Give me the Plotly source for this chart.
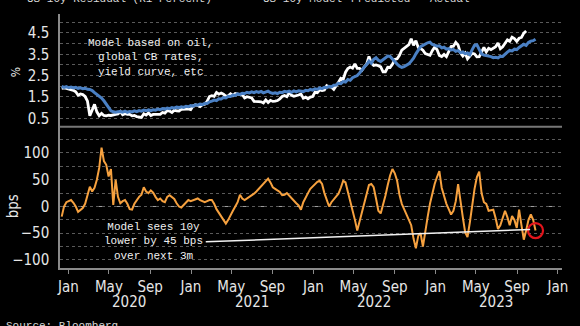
import pandas as pd
import plotly.graph_objects as go

# ---------------- data (weekly) ----------------
START = "2019-12-12"

actual_10y = [
    1.90, 1.92, 1.90, 1.88, 1.86, 1.81, 1.74, 1.58, 1.64, 1.61, 1.52, 1.30,
    0.62, 0.85, 1.15, 0.80, 0.62, 0.73, 0.63, 0.61, 0.64, 0.63, 0.64, 0.68, 0.70,
    0.82, 0.66, 0.71, 0.68, 0.68, 0.61, 0.63, 0.58, 0.55, 0.54, 0.71, 0.65, 0.75,
    0.63, 0.68, 0.69, 0.67, 0.68, 0.77, 0.74, 0.86, 0.84, 0.77, 0.88, 0.85, 0.84,
    0.92, 0.91, 0.93, 0.94, 0.91, 1.08, 1.13, 1.10, 1.05, 1.14, 1.16, 1.29, 1.52,
    1.56, 1.53, 1.71, 1.63, 1.68, 1.63, 1.53, 1.55, 1.65, 1.56, 1.66, 1.63, 1.61,
    1.62, 1.45, 1.51, 1.49, 1.45, 1.29, 1.30, 1.28, 1.27, 1.22, 1.36, 1.24, 1.34,
    1.29, 1.30, 1.33, 1.41, 1.52, 1.57, 1.51, 1.70, 1.58, 1.53, 1.55, 1.59, 1.64,
    1.44, 1.49, 1.41, 1.49, 1.52, 1.73, 1.70, 1.83, 1.80, 1.82, 2.03, 1.97, 1.96,
    1.86, 2.00, 2.19, 2.37, 2.32, 2.66, 2.83, 2.90, 2.85, 3.05, 2.84, 2.84, 2.75,
    2.91, 3.04, 3.40, 3.09, 2.98, 3.00, 2.96, 2.91, 2.68, 2.68, 2.89, 2.88, 3.03,
    3.26, 3.29, 3.45, 3.70, 3.78, 3.83, 3.95, 4.23, 3.92, 4.14, 3.82, 3.77, 3.69,
    3.53, 3.48, 3.45, 3.67, 3.83, 3.72, 3.44, 3.39, 3.49, 3.39, 3.66, 3.86, 3.88,
    4.06, 3.93, 3.57, 3.42, 3.55, 3.29, 3.45, 3.55, 3.52, 3.38, 3.39, 3.64, 3.82,
    3.61, 3.78, 3.72, 3.80, 3.85, 4.03, 3.76, 3.85, 4.00, 4.18, 4.11, 4.30, 4.24,
    4.11, 4.25, 4.29, 4.49, 4.59,
]

model_10y = [
    1.99, 1.95, 1.98, 1.93, 1.96, 1.92, 1.95, 1.90, 1.93, 1.89, 1.91, 1.86, 1.85,
    1.80, 1.70, 1.62, 1.55, 1.45, 1.32, 1.15, 1.00, 0.85, 0.80, 0.78, 0.80, 0.82,
    0.79, 0.83, 0.78, 0.82, 0.80, 0.85, 0.81, 0.86, 0.83, 0.88, 0.85, 0.89, 0.86,
    0.90, 0.88, 0.93, 0.90, 0.95, 0.93, 0.98, 0.95, 1.00, 0.97, 1.02, 1.00, 1.04,
    1.01, 1.06, 1.04, 1.09, 1.07, 1.13, 1.11, 1.16, 1.14, 1.20, 1.19, 1.27, 1.30,
    1.35, 1.33, 1.41, 1.40, 1.47, 1.45, 1.53, 1.52, 1.59, 1.57, 1.64, 1.62, 1.67,
    1.66, 1.72, 1.69, 1.74, 1.70, 1.75, 1.71, 1.76, 1.69, 1.73, 1.77, 1.70, 1.66,
    1.69, 1.66, 1.72, 1.70, 1.76, 1.73, 1.77, 1.72, 1.78, 1.74, 1.79, 1.76, 1.75,
    1.81, 1.79, 1.85, 1.82, 1.88, 1.85, 1.92, 1.89, 1.95, 1.93, 2.00, 1.97, 2.05,
    2.06, 2.14, 2.12, 2.22, 2.20, 2.32, 2.28, 2.40, 2.44, 2.50, 2.62, 2.78, 2.90,
    3.02, 3.18, 3.08, 3.27, 3.34, 3.22, 3.16, 3.25, 3.36, 3.42, 3.40, 3.28, 3.12,
    3.04, 2.94, 2.89, 2.92, 2.97, 3.05, 3.18, 3.32, 3.52, 3.72, 3.86, 3.92, 3.99,
    4.04, 4.07, 3.96, 3.93, 3.88, 3.90, 3.80, 3.83, 3.74, 3.77, 3.70, 3.72, 3.64,
    3.67, 3.58, 3.61, 3.53, 3.56, 3.48, 3.72, 3.92, 3.95, 3.74, 3.52, 3.46, 3.44,
    3.40, 3.39, 3.34, 3.36, 3.33, 3.41, 3.40, 3.52, 3.60, 3.68, 3.66, 3.74, 3.72,
    3.82, 3.88, 3.97, 3.92, 4.06, 4.12, 4.14, 4.21,
]

residual_bps = [
    -19, 0, 8, 10, 12, 7, 0, -10, -7, -3, 5, 22, 37,
    28, 35, 50, 72, 110, 85, 78, 56, 70, 3, 50, 18, 6,
    10, 12, 5, -5, -6, 5, 12, 18, 22, 36, 28, 25, 30,
    26, 18, 12, 15, 10, 8, 18, 21, 18, 14, 6, 0, -2,
    3, 9, 12, 10, 12, 14, 15, 12, 10, 8, 10, 12, 12,
    5, -5, -12, -20, -25, -32, -25, -15, -8, 0, 8, 22, 15,
    12, 15, 18, 20, 24, 28, 33, 38, 43, 47, 52, 45, 36,
    33, 30, 27, 21, 22, 25, 20, 14, 10, 6, 2, -6, 8,
    18, 25, 33, 38, 43, 46, 48, 42, 25, 12, 0, 8, 13,
    18, 24, 35, 48, 45, 28, 12, -5, -25, -45, -28, -10, 8,
    25, 40, 42, 36, 15, -8, -13, 2, 20, 40, 58, 70, 62,
    48, 22, 5, -5, -15, -25, -35, -60, -78, -55, -50, -75, -45,
    -20, 5, 25, 42, 55, 66, 35, 18, 5, -5, -15, -8, 10,
    42, 15, -20, -48, -57, -30, 5, 33, 55, 65, 25, 8, 5,
    -8, -7, -6, -22, -42, -35, -20, -8, -20, -35, -18, -25, -40,
    -6, -35, -62, -45, -25, -15, -25, -45,
]

month_ticks = ["2020-01-01", "2020-05-01", "2020-09-01", "2021-01-01", "2021-05-01",
               "2021-09-01", "2022-01-01", "2022-05-01", "2022-09-01", "2023-01-01",
               "2023-05-01", "2023-09-01", "2024-01-01"]
month_labels = ["Jan", "May", "Sep", "Jan", "May", "Sep", "Jan", "May", "Sep",
                "Jan", "May", "Sep", "Jan"]
year_labels = ["2020", "2021", "2022", "2023"]
year_centres = ["2020-07-01", "2021-07-01", "2022-07-01", "2023-07-01"]

dates = pd.date_range(START, periods=len(model_10y), freq="7D")
dates_actual = dates[:len(actual_10y)]

# ---------------- styling ----------------
BG = "#000000"
GRID = "#5a5a5a"
AXIS = "#8a8a8a"
TXT = "#e6e6e6"
SANS = "Liberation Sans Narrow, DejaVu Sans Condensed, Arial Narrow, sans-serif"
MONO = "Liberation Mono, DejaVu Sans Mono, monospace"

fig = go.Figure()

fig.add_trace(go.Scatter(x=dates_actual, y=actual_10y, mode="lines", name="Actual",
                         line=dict(color="#ffffff", width=2.8), yaxis="y"))
fig.add_trace(go.Scatter(x=dates, y=model_10y, mode="lines", name="Predicted",
                         line=dict(color="#4a80c4", width=3.0), yaxis="y"))
fig.add_trace(go.Scatter(x=dates, y=residual_bps, mode="lines", name="Residual",
                         line=dict(color="#f6a13f", width=2.0), yaxis="y2"))
fig.add_trace(go.Scatter(x=[dates[-1]], y=[residual_bps[-1]], mode="markers",
                         marker=dict(symbol="circle-open", size=15, color="#e3151c",
                                     line=dict(width=2.2, color="#e3151c")),
                         yaxis="y2", hoverinfo="skip"))

SPLIT = 0.556

fig.update_layout(
    width=580, height=326,
    margin=dict(l=60, r=13, t=14, b=58),
    paper_bgcolor=BG, plot_bgcolor=BG,
    showlegend=False,
    font=dict(family=SANS, color=TXT, size=15),
    xaxis=dict(
        type="date", anchor="y2",
        range=["2019-12-07", "2024-01-13"],
        tickvals=month_ticks, ticktext=month_labels,
        ticks="outside", ticklen=4, tickcolor=AXIS,
        showline=True, linecolor=AXIS, linewidth=1.5,
        showgrid=False, zeroline=False,
        tickfont=dict(family=SANS, size=15, color=TXT),
    ),
    yaxis=dict(
        domain=[SPLIT, 1], range=[0.1, 5.39],
        tick0=0.5, dtick=1, ticks="", ticklabelstandoff=6,
        showgrid=True, gridcolor=GRID, griddash="dot", gridwidth=1,
        minor=dict(tick0=0.5, dtick=0.5, showgrid=True, gridcolor=GRID,
                   griddash="dot", gridwidth=1),
        showline=True, linecolor=AXIS, linewidth=1.5, zeroline=False,
        tickfont=dict(family=SANS, size=15, color=TXT),
    ),
    yaxis2=dict(
        domain=[0, SPLIT], range=[-115, 149],
        tick0=0, dtick=50, ticks="", ticklabelstandoff=6,
        showgrid=True, gridcolor=GRID, griddash="dot", gridwidth=1,
        minor=dict(tick0=0, dtick=25, showgrid=True, gridcolor=GRID,
                   griddash="dot", gridwidth=1),
        showline=True, linecolor=AXIS, linewidth=1.5, zeroline=False,
        tickfont=dict(family=SANS, size=15, color=TXT),
    ),
)

# panel separator and dashed zero line
fig.add_shape(type="line", xref="paper", yref="paper", x0=0, x1=1, y0=SPLIT, y1=SPLIT,
              line=dict(color="#777777", width=2), layer="above")
fig.add_shape(type="line", xref="paper", yref="y2", x0=0, x1=1, y0=0, y1=0,
              line=dict(color="#a0a0a0", width=1, dash="dash"), layer="below")

# pointer line from the note to the latest residual
fig.add_shape(type="line", xref="x", yref="y2",
              x0="2021-02-14", y0=-66,
              x1=dates[-1] - pd.Timedelta(days=16), y1=residual_bps[-1] + 2,
              line=dict(color="#f2f2f2", width=1.5))

notes = [
    dict(text="Model based on oil,<br>global CB rates,<br>yield curve, etc",
         x=0.1805, y=0.827),
    dict(text="Model sees 10y<br>lower by 45 bps<br>over next 3m",
         x=0.187, y=0.106),
]
for n in notes:
    fig.add_annotation(text=n["text"], x=n["x"], y=n["y"], xref="paper", yref="paper",
                       xanchor="center", yanchor="middle", showarrow=False, align="center",
                       font=dict(family=MONO, size=11, color="#f0f0f0"))

for lab, pos in zip(year_labels, year_centres):
    fig.add_annotation(text=lab, x=pos, y=-0.134, xref="x", yref="paper",
                       xanchor="center", yanchor="middle", showarrow=False,
                       font=dict(family=SANS, size=15, color=TXT))

# axis titles
fig.add_annotation(text="%", x=-0.087, y=0.772, xref="paper", yref="paper",
                   textangle=-90, showarrow=False, xanchor="center", yanchor="middle",
                   font=dict(family=SANS, size=12, color=TXT))
fig.add_annotation(text="bps", x=-0.093, y=0.244, xref="paper", yref="paper",
                   textangle=-90, showarrow=False, xanchor="center", yanchor="middle",
                   font=dict(family=SANS, size=15, color=TXT))

# legend row (cropped at the top edge, as in the reference) and source line
legend_items = [("US 10y Residual (R1 Percent)", -0.069), ("US 10y Model", 0.40),
                ("Predicted", 0.576), ("Actual", 0.734)]
for txt, xp in legend_items:
    fig.add_annotation(text=txt, x=xp, y=1.058, xref="paper", yref="paper",
                       xanchor="left", yanchor="middle", showarrow=False,
                       font=dict(family=MONO, size=11, color="#d8d8d8"))
fig.add_annotation(text="Source: Bloomberg", x=-0.112, y=-0.23, xref="paper",
                   yref="paper", xanchor="left", yanchor="middle", showarrow=False,
                   font=dict(family=MONO, size=11, color="#d8d8d8"))

fig.write_html("out.html")
